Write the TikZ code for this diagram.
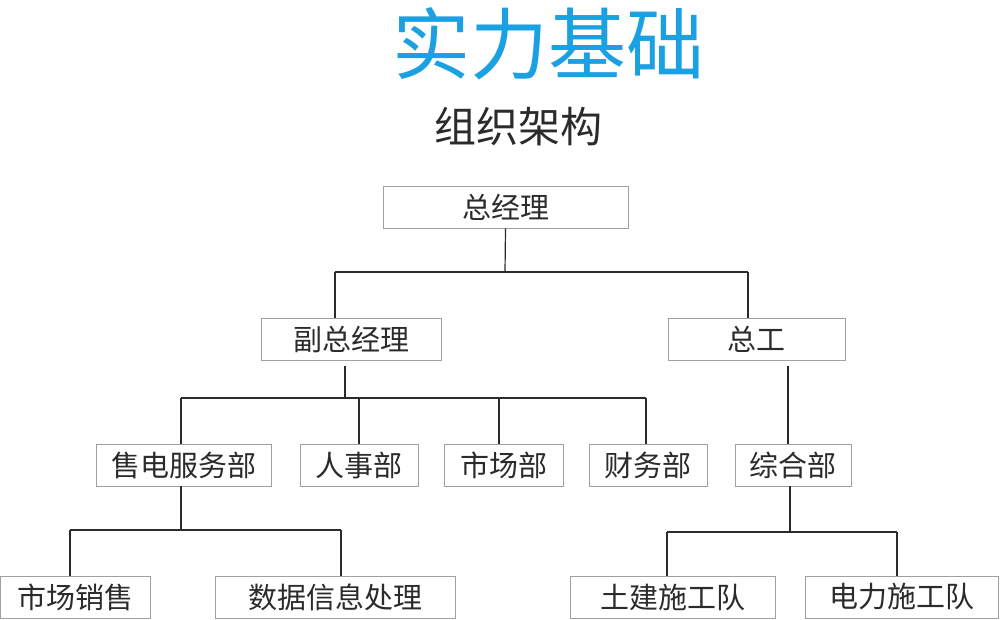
\documentclass[tikz,border=0pt]{standalone}
\usepackage{fontspec}
\newfontfamily\cjk{Noto Sans CJK SC}
\definecolor{txt}{HTML}{2B2B2B}
\definecolor{bx}{HTML}{A0A0A0}
\definecolor{ttl}{HTML}{1BA1E2}
\begin{document}
\begin{tikzpicture}[x=1pt,y=-1pt,
  box/.style={draw=bx,line width=0.8pt,minimum height=42pt,inner sep=0pt,font=\cjk\fontsize{29}{29}\selectfont,text=txt},
  ln/.style={draw=txt,line width=1.2pt}]
\useasboundingbox (0,0) rectangle (1000,620);
\node[font=\cjk\fontsize{78}{78}\selectfont,text=ttl] (title) at (548,44) {实力基础};
\node[font=\cjk\fontsize{42}{42}\selectfont,text=txt] (sub) at (518,127) {组织架构};
\node[box,minimum width=245pt] (gm) at (505.5,207) {总经理};
\node[box,minimum width=180pt] (vgm) at (351,339) {副总经理};
\node[box,minimum width=177pt] (ce) at (756.5,339) {总工};
\node[box,minimum width=175pt] (sd) at (183.5,465) {售电服务部};
\node[box,minimum width=118pt] (hr) at (359,465) {人事部};
\node[box,minimum width=119pt] (mk) at (503.5,465) {市场部};
\node[box,minimum width=118pt] (fi) at (648,465) {财务部};
\node[box,minimum width=116pt] (zh) at (793,465) {综合部};
\node[box,minimum width=150pt] (ms) at (75,597) {市场销售};
\node[box,minimum width=240pt] (dp) at (335,597) {数据信息处理};
\node[box,minimum width=205pt] (tj) at (672.5,597) {土建施工队};
\node[box,minimum width=193pt] (dl) at (901.5,597) {电力施工队};
\coordinate (a1) at (505,272);
\coordinate (a2) at (345,398);
\coordinate (a3) at (181,530);
\coordinate (a4) at (790,532);
\draw[ln] (gm.south) -- (a1);
\draw[ln] (335,272) -- (748,272);
\draw[ln] (335,272) -- (335,318);
\draw[ln] (748,272) -- (748,318);
\draw[ln] (345,366) -- (a2);
\draw[ln] (181,398) -- (646,398);
\draw[ln] (181,398) -- (181,444);
\draw[ln] (359,398) -- (hr.north);
\draw[ln] (499,398) -- (499,444);
\draw[ln] (646,398) -- (646,444);
\draw[ln] (788,366) -- (788,444);
\draw[ln] (181,486) -- (a3);
\draw[ln] (70,530) -- (341,530);
\draw[ln] (70,530) -- (70,576);
\draw[ln] (341,530) -- (341,576);
\draw[ln] (790,486) -- (a4);
\draw[ln] (667,532) -- (897,532);
\draw[ln] (667,532) -- (667,576);
\draw[ln] (897,532) -- (897,576);
\end{tikzpicture}
\end{document}
